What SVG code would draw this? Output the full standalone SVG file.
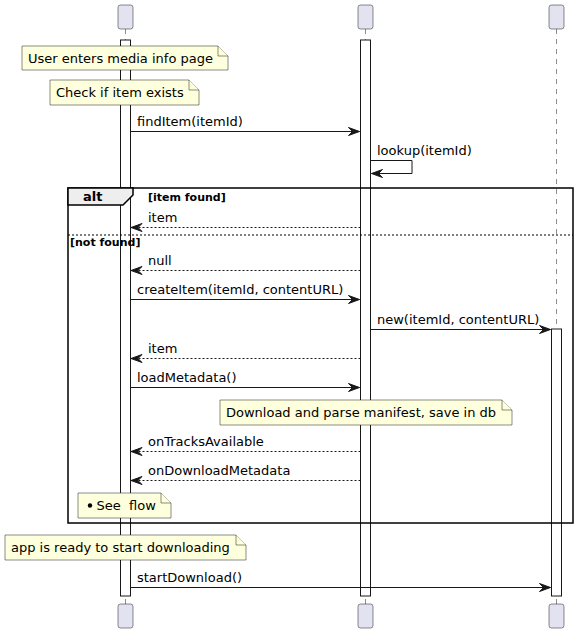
<svg xmlns="http://www.w3.org/2000/svg" width="588" height="635" viewBox="0 0 588 635">
<defs>
<style>
text{font-family:"DejaVu Sans","Liberation Sans",sans-serif;font-size:13px;fill:#000}
.b{font-weight:bold;font-size:11px}
.alt{font-weight:bold;font-size:13px}
.part{fill:#E2E2F0;stroke:#181818;stroke-width:0.5}
.life{stroke:#181818;stroke-width:0.5;stroke-dasharray:5,5;fill:none}
.act{fill:#FFFFFF;stroke:#181818;stroke-width:1}
.note{fill:#FEFFDD;stroke:#181818;stroke-width:0.5}
.msg{stroke:#181818;stroke-width:1;fill:none}
.ret{stroke:#181818;stroke-width:1;fill:none;stroke-dasharray:2,2}
.frame{fill:none;stroke:#000;stroke-width:1.5}
</style>
<marker id="ah" viewBox="-1 -1 13 10" refX="11" refY="4" markerWidth="13" markerHeight="10" markerUnits="userSpaceOnUse" orient="auto">
<polygon points="0,0 11,4 0,8 4,4" fill="#181818" stroke="#181818" stroke-width="1" stroke-linejoin="miter"/>
</marker>
</defs>

<g id="lifelines">
<line class="life" x1="125.5" y1="29" x2="125.5" y2="604"/>
<line class="life" x1="365.5" y1="29" x2="365.5" y2="604"/>
<line class="life" x1="556.5" y1="29" x2="556.5" y2="604"/>
</g>

<g id="participant-1">
<rect class="part" x="118" y="5" width="15" height="24" rx="2.5"/>
<rect class="part" x="118" y="604" width="15" height="24" rx="2.5"/>
</g>
<g id="participant-2">
<rect class="part" x="358" y="5" width="15" height="24" rx="2.5"/>
<rect class="part" x="358" y="604" width="15" height="24" rx="2.5"/>
</g>
<g id="participant-3">
<rect class="part" x="549" y="5" width="15" height="24" rx="2.5"/>
<rect class="part" x="549" y="604" width="15" height="24" rx="2.5"/>
</g>

<g id="activations">
<rect class="act" x="120.5" y="40" width="10" height="556"/>
<rect class="act" x="360.5" y="40" width="10" height="556"/>
<rect class="act" x="551.5" y="329" width="10" height="267"/>
</g>

<g id="alt-frame">
<rect class="frame" x="68" y="188" width="505" height="335"/>
<path d="M68,188 L133,188 L133,195 L123,205 L68,205 Z" fill="#EEEEEE" stroke="#000" stroke-width="1.5"/>
<text class="alt" x="83" y="201">alt</text>
<text class="b" x="148" y="201">[item found]</text>
<line x1="68" y1="235" x2="573" y2="235" stroke="#000" stroke-width="1" stroke-dasharray="2,2"/>
<text class="b" x="70" y="246">[not found]</text>
</g>

<g id="connectors">
<line class="msg" x1="130.5" y1="131.5" x2="359.5" y2="131.5" marker-end="url(#ah)"/>
<text x="137" y="126">findItem(itemId)</text>

<polyline class="msg" points="370.5,160.5 412,160.5 412,173.5 371.5,173.5" marker-end="url(#ah)"/>
<text x="377" y="155">lookup(itemId)</text>

<line class="ret" x1="360.5" y1="227.5" x2="131" y2="227.5" marker-end="url(#ah)"/>
<text x="148" y="222">item</text>

<line class="ret" x1="360.5" y1="270.5" x2="131" y2="270.5" marker-end="url(#ah)"/>
<text x="148" y="265">null</text>

<line class="msg" x1="130.5" y1="299.5" x2="359.5" y2="299.5" marker-end="url(#ah)"/>
<text x="137" y="294">createItem(itemId, contentURL)</text>

<line class="msg" x1="370.5" y1="329.5" x2="550.5" y2="329.5" marker-end="url(#ah)"/>
<text x="377" y="324">new(itemId, contentURL)</text>

<line class="ret" x1="360.5" y1="358.5" x2="131" y2="358.5" marker-end="url(#ah)"/>
<text x="148" y="353">item</text>

<line class="msg" x1="130.5" y1="387.5" x2="359.5" y2="387.5" marker-end="url(#ah)"/>
<text x="137" y="382">loadMetadata()</text>

<line class="ret" x1="360.5" y1="451.5" x2="131" y2="451.5" marker-end="url(#ah)"/>
<text x="148" y="446">onTracksAvailable</text>

<line class="ret" x1="360.5" y1="480.5" x2="131" y2="480.5" marker-end="url(#ah)"/>
<text x="148" y="475">onDownloadMetadata</text>

<line class="msg" x1="130.5" y1="587.5" x2="550.5" y2="587.5" marker-end="url(#ah)"/>
<text x="137" y="582">startDownload()</text>
</g>

<g id="note-1">
<path class="note" d="M22,46 L22,70 L228,70 L228,56 L218,46 Z"/>
<path class="note" d="M218,46 L218,56 L228,56" fill="none"/>
<text x="28" y="63">User enters media info page</text>
</g>
<g id="note-2">
<path class="note" d="M50,80 L50,105 L199,105 L199,90 L189,80 Z"/>
<path class="note" d="M189,80 L189,90 L199,90" fill="none"/>
<text x="56" y="97">Check if item exists</text>
</g>
<g id="note-3">
<path class="note" d="M220,400 L220,425 L512,425 L512,410 L502,400 Z"/>
<path class="note" d="M502,400 L502,410 L512,410" fill="none"/>
<text x="226" y="417">Download and parse manifest, save in db</text>
</g>
<g id="note-4">
<path class="note" d="M78,493 L78,518 L171,518 L171,503 L161,493 Z"/>
<path class="note" d="M161,493 L161,503 L171,503" fill="none"/>
<circle cx="90" cy="505.5" r="2.2" fill="#000"/>
<text x="96.5" y="510" xml:space="preserve">See  flow</text>
</g>
<g id="note-5">
<path class="note" d="M5,535 L5,560 L246,560 L246,545 L236,535 Z"/>
<path class="note" d="M236,535 L236,545 L246,545" fill="none"/>
<text x="11" y="552">app is ready to start downloading</text>
</g>
</svg>
